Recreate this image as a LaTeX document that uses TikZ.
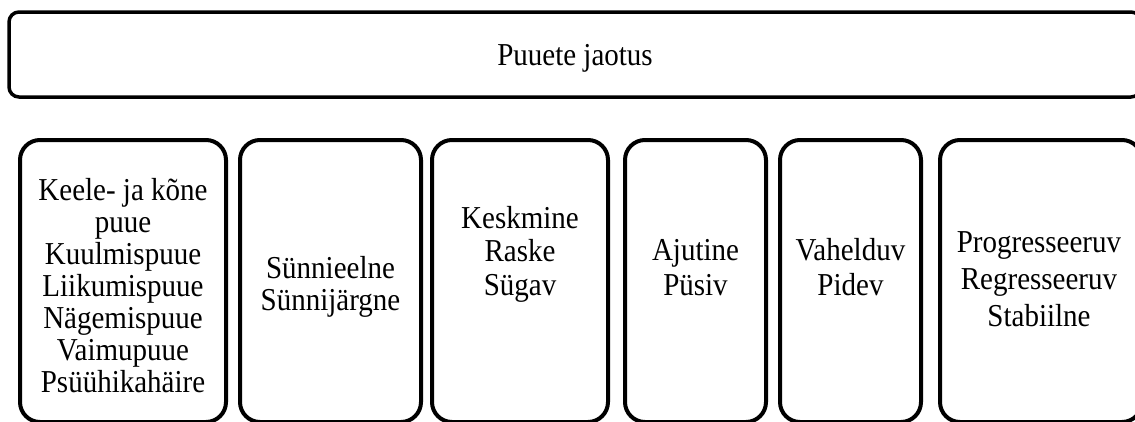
\documentclass[tikz,border=0pt]{standalone}
\usepackage{fontspec}
\setmainfont{Liberation Serif}
\newcommand\tallt[1]{\scalebox{1}[1.1]{#1}}
\begin{document}
\begin{tikzpicture}[x=1pt,y=-1pt,
  topbox/.style={draw, line width=3.5pt, rounded corners=10pt, inner sep=0pt},
  catbox/.style={draw, line width=4pt, rounded corners=20pt, inner sep=0pt, minimum height=282pt},
  lbl/.style={anchor=base, inner sep=0pt, font=\fontsize{29}{30}\selectfont}]
\useasboundingbox (0,0) rectangle (1135,421);
\clip (0,0) rectangle (1135,421);
\node[topbox, minimum width=1132pt, minimum height=85pt] (top) at (575,54.5) {};
\node[lbl] (toptext) at (575,65) {\tallt{Puuete jaotus}};
\node[catbox, minimum width=206pt] (b1) at (123,281) {};
\node[catbox, minimum width=181pt] (b2) at (330.5,281) {};
\node[catbox, minimum width=176pt] (b3) at (520,281) {};
\node[catbox, minimum width=141pt] (b4) at (695.5,281) {};
\node[catbox, minimum width=141pt] (b5) at (850.5,281) {};
\node[catbox, minimum width=202pt] (b6) at (1041,281) {};
\foreach \t [count=\i] in {Keele- ja kõne, puue, Kuulmispuue, Liikumispuue, Nägemispuue, Vaimupuue, Psüühikahäire}
  \node[lbl] (t1-\i) at (123,{200+(\i-1)*32}) {\tallt{\t}};
\node[lbl] (t2-1) at (330.5,278) {\tallt{Sünnieelne}};
\node[lbl] (t2-2) at (330.5,310) {\tallt{Sünnijärgne}};
\node[lbl] (t3-1) at (520,228) {\tallt{Keskmine}};
\node[lbl] (t3-2) at (520,261) {\tallt{Raske}};
\node[lbl] (t3-3) at (520,295) {\tallt{Sügav}};
\node[lbl] (t4-1) at (695.5,260) {\tallt{Ajutine}};
\node[lbl] (t4-2) at (695.5,295) {\tallt{Püsiv}};
\node[lbl] (t5-1) at (850.5,260) {\tallt{Vahelduv}};
\node[lbl] (t5-2) at (850.5,295) {\tallt{Pidev}};
\node[lbl] (t6-1) at (1039,252) {\tallt{Progresseeruv}};
\node[lbl] (t6-2) at (1039,289) {\tallt{Regresseeruv}};
\node[lbl] (t6-3) at (1039,326) {\tallt{Stabiilne}};
\end{tikzpicture}
\end{document}
